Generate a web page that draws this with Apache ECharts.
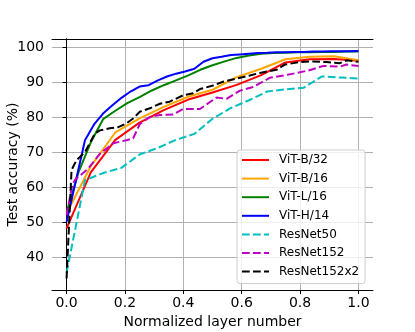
<!DOCTYPE html>
<html>
<head>
<meta charset="utf-8">
<script src="https://cdn.jsdelivr.net/npm/echarts@6/dist/echarts.min.js"></script>
<style>
  html, body { margin: 0; padding: 0; background: #fff; }
  #main { width: 415px; height: 332px; }
</style>
</head>
<body>
<div id="main"></div>
<script>
// tick labels
var xTicks = [0, 0.2, 0.4, 0.6, 0.8, 1.0];
var yTicks = [40, 50, 60, 70, 80, 90, 100];

// ViT-B: 12 blocks -> 13 points
var vitBx = [0, 0.083, 0.167, 0.25, 0.333, 0.417, 0.5, 0.583, 0.667, 0.75, 0.833, 0.917, 1.0];
var vitB32 = [48.2, 64.2, 73.5, 78.4, 82.0, 85.0, 87.0, 89.2, 92.0, 95.6, 96.5, 96.6, 96.1];
var vitB16 = [52.5, 66.0, 75.6, 79.6, 82.9, 85.8, 87.8, 91.4, 93.8, 96.5, 97.2, 97.4, 96.2];

// ViT-L/16: 24 blocks
var vitLx = [0, 0.042, 0.083, 0.125, 0.167, 0.208, 0.25, 0.292, 0.333, 0.375, 0.417, 0.458, 0.5,
  0.542, 0.583, 0.625, 0.667, 0.708, 0.75, 0.792, 0.833, 0.875, 0.917, 0.958, 1.0];
var vitL16 = [52.9, 64.5, 72.8, 79.4, 81.8, 84.0, 85.7, 87.6, 89.1, 90.5, 91.9, 93.5, 94.8,
  95.9, 96.9, 97.6, 98.1, 98.3, 98.4, 98.5, 98.5, 98.6, 98.6, 98.7, 98.7];

// ViT-H/14: 32 blocks
var vitHx = [0, 0.031, 0.063, 0.094, 0.125, 0.156, 0.188, 0.219, 0.25, 0.281, 0.313, 0.344, 0.375,
  0.406, 0.438, 0.469, 0.5, 0.531, 0.563, 0.594, 0.625, 0.656, 0.688, 0.719, 0.75, 0.781, 0.813,
  0.844, 0.875, 0.906, 0.938, 0.969, 1.0];
var vitH14 = [50.1, 61.5, 73.4, 77.9, 81.0, 83.3, 85.5, 87.3, 88.7, 89.1, 90.5, 91.6, 92.4,
  93.0, 93.8, 95.8, 96.8, 97.2, 97.7, 97.9, 98.1, 98.3, 98.4, 98.5, 98.5, 98.6, 98.6, 98.7,
  98.7, 98.8, 98.8, 98.8, 98.9];

// ResNet50: 16 blocks
var r50x = [0, 0.063, 0.125, 0.188, 0.25, 0.313, 0.375, 0.438, 0.5, 0.563, 0.625, 0.688, 0.75,
  0.813, 0.875, 0.938, 1.0];
var r50 = [35.5, 62.0, 64.0, 65.5, 69.3, 71.2, 73.5, 75.2, 79.5, 82.6, 84.8, 87.3, 87.9,
  88.4, 91.6, 91.3, 91.0];

// ResNet152
var r152x = [0, 0.018, 0.028, 0.074, 0.114, 0.16, 0.205, 0.228, 0.251, 0.285, 0.32, 0.365, 0.399,
  0.457, 0.514, 0.548, 0.593, 0.639, 0.696, 0.765, 0.828, 0.879, 0.936, 0.959, 1.0];
var r152 = [52, 60, 62, 65.3, 69.5, 72.5, 73.4, 73.9, 78.0, 80.0, 80.6, 80.7, 82.3,
  82.3, 85.6, 85.2, 87.5, 88.6, 91.2, 92.2, 93.3, 94.6, 94.4, 95.0, 94.6];

// ResNet152x2
var r152x2x = [0, 0.017, 0.034, 0.063, 0.097, 0.114, 0.148, 0.177, 0.205, 0.228, 0.251, 0.285,
  0.32, 0.353, 0.399, 0.434, 0.457, 0.502, 0.536, 0.582, 0.628, 0.662, 0.719, 0.748, 0.799,
  0.844, 0.89, 0.936, 0.96, 1.0];
var r152x2 = [33.9, 64.9, 67.7, 70.0, 75.3, 76.2, 76.8, 77.1, 78.2, 79.6, 81.5, 82.5,
  83.8, 84.4, 86.2, 86.8, 88.0, 89.0, 90.1, 91.0, 91.9, 92.6, 93.5, 95.0, 95.7,
  95.9, 95.7, 95.4, 96.2, 95.8];

var names = ['ViT-B/32', 'ViT-B/16', 'ViT-L/16', 'ViT-H/14', 'ResNet50', 'ResNet152', 'ResNet152x2'];
var colors = ['#ff0000', '#ffa500', '#008000', '#0000ff', '#00bfbf', '#bf00bf', '#000000'];
var xs = [vitBx, vitBx, vitLx, vitHx, r50x, r152x, r152x2x];
var ys = [vitB32, vitB16, vitL16, vitH14, r50, r152, r152x2];

function zip(a, b) {
  return a.map(function (v, i) { return [v, b[i]]; });
}

var font = 'DejaVu Sans';
var series = names.map(function (n, i) {
  return {
    name: n,
    type: 'line',
    symbol: 'none',
    data: zip(xs[i], ys[i]),
    lineStyle: { color: colors[i], width: 2, type: i >= 4 ? [7.7, 3.3] : 'solid' },
    itemStyle: { color: colors[i] }
  };
});

var chart = echarts.init(document.getElementById('main'));
chart.setOption({
  animation: false,
  grid: { left: 52, right: 42, top: 39, bottom: 42, outerBoundsMode: 'none', containLabel: false },
  xAxis: [{
    type: 'value', min: -0.05, max: 1.05, splitNumber: 5,
    name: 'Normalized layer number', nameLocation: 'middle', nameGap: 25,
    nameTextStyle: { fontFamily: font, fontSize: 14, color: '#000' },
    axisLine: { show: true, lineStyle: { color: '#000', width: 1 } },
    axisTick: { show: true, length: 4, customValues: xTicks, lineStyle: { color: '#000' } },
    axisLabel: {
      fontFamily: font, fontSize: 14, color: '#000', margin: 6, customValues: xTicks,
      formatter: function (v) { return v.toFixed(1); }
    },
    splitLine: { show: true, lineStyle: { color: '#b0b0b0', width: 1 } }
  }, {
    type: 'value', position: 'top', min: -0.05, max: 1.05,
    axisLine: { show: true, lineStyle: { color: '#000', width: 1 } },
    axisTick: { show: false }, axisLabel: { show: false }, splitLine: { show: false }
  }],
  yAxis: [{
    type: 'value', min: 30.6, max: 102.3, splitNumber: 5,
    name: 'Test accuracy (%)', nameLocation: 'middle', nameGap: 32, nameMoveOverlap: false,
    nameTextStyle: { fontFamily: font, fontSize: 14, color: '#000' },
    axisLine: { show: true, lineStyle: { color: '#000', width: 1 } },
    axisTick: { show: true, length: 4, customValues: yTicks, lineStyle: { color: '#000' } },
    axisLabel: {
      fontFamily: font, fontSize: 14, color: '#000', margin: 8, customValues: yTicks,
      formatter: function (v) { return String(v); }
    },
    splitLine: { show: true, lineStyle: { color: '#b0b0b0', width: 1 } }
  }, {
    type: 'value', position: 'right', min: 30.6, max: 102.3,
    axisLine: { show: true, lineStyle: { color: '#000', width: 1 } },
    axisTick: { show: false }, axisLabel: { show: false }, splitLine: { show: false }
  }],
  legend: {
    orient: 'vertical', left: 237, top: 150,
    itemWidth: 27, itemHeight: 12, itemGap: 6.6,
    padding: [4, 6, 6, 4],
    backgroundColor: 'rgba(255,255,255,0.8)',
    borderColor: '#cccccc', borderWidth: 1, borderRadius: 3,
    itemStyle: { opacity: 0 },
    textStyle: { fontFamily: font, fontSize: 12, color: '#000', padding: [0, 0, 0, 5] },
    data: names
  },
  series: series
});
</script>
</body>
</html>
